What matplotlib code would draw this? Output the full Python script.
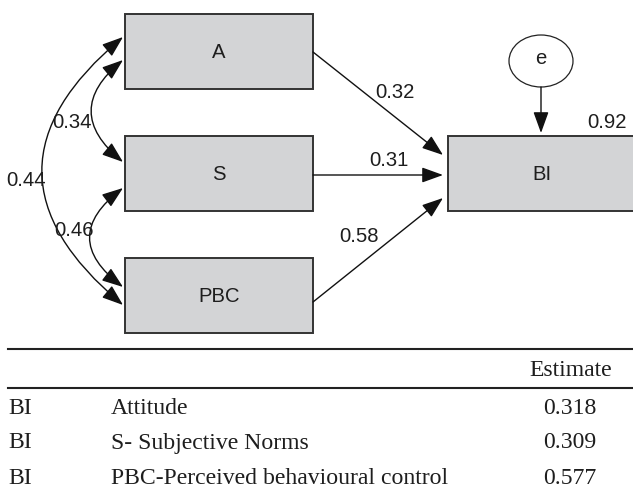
import matplotlib
matplotlib.use("Agg")
import matplotlib.pyplot as plt
from matplotlib.patches import Rectangle, Ellipse, FancyArrowPatch

# ---- data ----
predictors = ["A", "S", "PBC"]
outcome = "BI"
path_coefs = [0.32, 0.31, 0.58]          # A->BI, S->BI, PBC->BI
r_squared = 0.92
cov_pairs = [("A", "S"), ("S", "PBC"), ("A", "PBC")]
cov_values = [0.34, 0.46, 0.44]
table_header = "Estimate"
table_dep = ["BI", "BI", "BI"]
table_pred = ["Attitude", "S- Subjective Norms", "PBC-Perceived behavioural control"]
table_est = [0.318, 0.309, 0.577]

# ---- layout (pixel coordinates) ----
W, H = 633, 496
fig = plt.figure(figsize=(W / 100, H / 100), dpi=100)
ax = fig.add_axes([0, 0, 1, 1])
ax.set_xlim(0, W)
ax.set_ylim(H, 0)
ax.axis("off")

SANS = "Liberation Sans"
SERIF = "Liberation Serif"
box_fc = "#d3d4d6"
edge = "#333333"
txt = "#1e1e1e"

box_x0, box_x1 = 125, 313
box_tops = {"A": 14, "S": 136, "PBC": 258}
box_h = 75
for name in predictors:
    y0 = box_tops[name]
    ax.add_patch(Rectangle((box_x0, y0), box_x1 - box_x0, box_h, fc=box_fc, ec=edge, lw=1.4))
    ax.text((box_x0 + box_x1) / 2, y0 + box_h / 2 + 1, name, ha="center", va="center",
            fontsize=14.6, family=SANS, color=txt)

# BI box
bi_x0, bi_y0 = 448, 136
ax.add_patch(Rectangle((bi_x0, bi_y0), 188, box_h, fc=box_fc, ec=edge, lw=1.4))
ax.text(542, bi_y0 + box_h / 2 + 1, outcome, ha="center", va="center",
        fontsize=14.6, family=SANS, color=txt)

# error term
ax.add_patch(Ellipse((541, 61), 64, 52, fc="white", ec="#222222", lw=0.9))
ax.text(541, 59, "e", ha="center", va="center", fontsize=14.6, family=SANS, color=txt)

def arrow(p0, p1, style="-|>", rad=0.0):
    a = FancyArrowPatch(p0, p1, arrowstyle=style + ",head_length=13,head_width=4.7",
                        connectionstyle=f"arc3,rad={rad}", mutation_scale=1,
                        lw=1.0, color="#111111", shrinkA=0, shrinkB=0)
    ax.add_patch(a)

arrow((541, 87), (541, 133))
ax.text(607, 123, f"{r_squared:.2f}", ha="center", va="center", fontsize=14.6, family=SANS, color=txt)

# path arrows
starts = {"A": (313, 52), "S": (313, 175), "PBC": (313, 302)}
ends = {"A": (443, 155), "S": (443, 175), "PBC": (443, 198)}
label_pos = {"A": (395, 93), "S": (389, 160), "PBC": (359, 237)}
for name, c in zip(predictors, path_coefs):
    arrow(starts[name], ends[name])
    ax.text(*label_pos[name], f"{c:.2f}", ha="center", va="center",
            fontsize=14.6, family=SANS, color=txt)

# covariances
cov_geom = {("A", "S"): ((123, 60), (123, 162), 0.61, (72, 123)),
            ("S", "PBC"): ((123, 188), (123, 287), 0.66, (74, 230)),
            ("A", "PBC"): ((123, 37), (123, 305), 0.6, (26, 181))}
for pair, v in zip(cov_pairs, cov_values):
    p0, p1, rad, lp = cov_geom[pair]
    arrow(p0, p1, style="<|-|>", rad=rad)
    ax.text(*lp, f"{v:.2f}", ha="center", va="center", fontsize=14.6, family=SANS, color=txt)

# ---- table ----
ax.plot([8, W], [349, 349], color="#222222", lw=1.5)
ax.plot([8, W], [388, 388], color="#222222", lw=1.5)
ax.text(571, 370, table_header, ha="center", va="center", fontsize=17.1, family=SERIF, color=txt)
row_y = [408, 443, 478]
for y, d, p, e in zip(row_y, table_dep, table_pred, table_est):
    ax.text(8, y, d, ha="left", va="center", fontsize=17.1, family=SERIF, color=txt)
    ax.text(111, y, p, ha="left", va="center", fontsize=17.1, family=SERIF, color=txt)
    ax.text(570, y, f"{e:.3f}", ha="center", va="center", fontsize=17.1, family=SERIF, color=txt)

fig.savefig("out.png", dpi=100, facecolor="white")
